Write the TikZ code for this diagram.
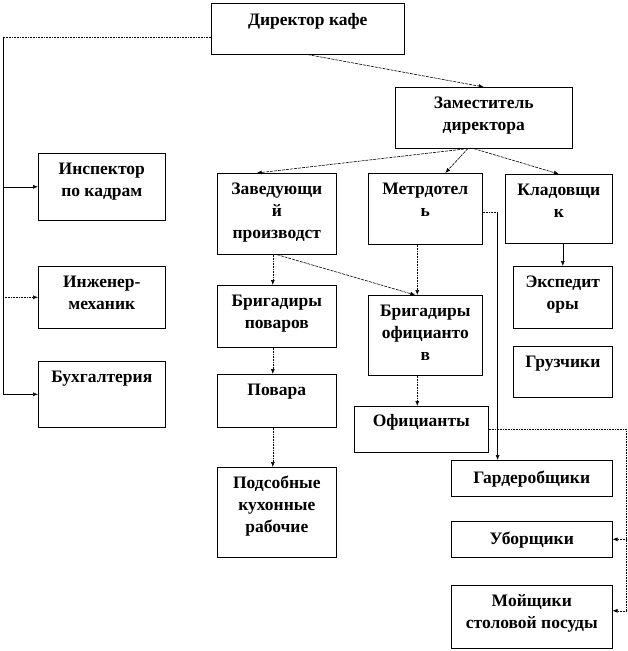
\documentclass[tikz,border=0pt]{standalone}
\usepackage{fontspec}
\setmainfont{Liberation Serif}
\usetikzlibrary{arrows.meta,positioning,calc}
% box text: width, height, text (optional: first baseline)
\newcommand{\bt}[4][21pt]{\parbox[t][#3][t]{#2}{\centering\rule{0pt}{#1}#4}}

\begin{document}
\begin{tikzpicture}[
        x=1pt, y=-1pt,
        font=\fontsize{17.5}{22}\selectfont\bfseries,
        >={Latex[length=5pt,width=4pt]},
        box/.style={draw, line width=0.6pt, inner sep=0pt, anchor=north west},
        sol/.style={->, line width=0.6pt},
        dot/.style={->, line width=0.6pt, densely dotted},
        dsh/.style={->, line width=0.6pt, dash pattern=on 3pt off 1pt},
    ]
        \useasboundingbox (0,0) rectangle (628,651);

        % --- top ---
        \node[box] (dir) at (211,3) {\bt[22pt]{193pt}{51pt}{Директор кафе}};
        \node[box] (zam) at (395,87) {\bt{177pt}{61pt}{Заместитель\\директора}};

        % --- left column ---
        \node[box] (insp) at (38,153) {\bt{127pt}{67pt}{Инспектор\\по кадрам}};
        \node[box] (inzh) at (38,266) {\bt{127pt}{62pt}{Инженер-\\механик}};
        \node[box] (buh)  at (38,361) {\bt{127pt}{66pt}{Бухгалтерия}};

        % --- production ---
        \node[box] (zav)  at (217,173) {\bt{119pt}{81pt}{Заведующи\\й\\производст}};
        \node[box] (bpov) at (217,285) {\bt{119pt}{62pt}{Бригадиры\\поваров}};
        \node[box] (pov)  at (217,374) {\bt{119pt}{53pt}{Повара}};
        \node[box] (pods) at (217,467) {\bt{119pt}{90pt}{Подсобные\\кухонные\\рабочие}};

        % --- hall ---
        \node[box] (met)  at (368,173) {\bt{114pt}{71pt}{Метрдотел\\ь}};
        \node[box] (bofi) at (368,295) {\bt{114pt}{80pt}{Бригадиры\\официанто\\в}};
        \node[box] (ofi)  at (354,406) {\bt[20pt]{134pt}{46pt}{Официанты}};

        % --- store ---
        \node[box] (klad) at (505,174) {\bt{107pt}{69pt}{Кладовщи\\к}};
        \node[box] (eksp) at (513,266) {\bt{99pt}{62pt}{Экспедит\\оры}};
        \node[box] (gruz) at (513,346) {\bt{99pt}{51pt}{Грузчики}};

        % --- service staff ---
        \node[box] (gard) at (451,460) {\bt[23pt]{161pt}{36pt}{Гардеробщики}};
        \node[box] (ubor) at (451,521) {\bt[23pt]{161pt}{36pt}{Уборщики}};
        \node[box] (moy)  at (451,585) {\bt{161pt}{63pt}{Мойщики\\столовой посуды}};

        % director -> left column
        \draw[line width=0.6pt, densely dotted] ([yshift=-8pt]dir.west) -- ++(-208,0) coordinate (lft);
        \draw[line width=0.6pt] (lft) -- (lft |- buh.west);
        \draw[sol] (lft |- insp.west) -- (insp.west);
        \draw[dot] (lft |- inzh.west) -- (inzh.west);
        \draw[sol] (lft |- buh.west) -- (buh.west);

        % director -> deputy -> heads
        \draw[dsh] (dir.south) -- (zam.north);
        \draw[dsh] ([xshift=-16pt]zam.south) -- ([xshift=-20pt]zav.north);
        \draw[dsh] ([xshift=-16pt]zam.south) -- ([xshift=20pt]met.north);
        \draw[dsh] ([xshift=-10pt]zam.south) -- (klad.north);
        \draw[sol] (eksp.north |- klad.south) -- (eksp.north);

        % production chain
        \draw[dot] ([xshift=-4pt]zav.south) -- ([xshift=-4pt]bpov.north);
        \draw[dsh] (zav.south) -- ([xshift=-10pt]bofi.north);
        \draw[dot] ([xshift=-4pt]bpov.south) -- ([xshift=-4pt]pov.north);
        \draw[dot] ([xshift=-4pt]pov.south) -- ([xshift=-4pt]pods.north);

        % hall chain
        \draw[dot] ([xshift=-8pt]met.south) -- ([xshift=-8pt]bofi.north);
        \draw[dot] ([xshift=-8pt]bofi.south) -- ([xshift=-8pt]bofi.south |- ofi.north);
        \draw[line width=0.6pt, densely dotted] ([yshift=-3pt]met.east) -- ++(15,0) coordinate (mg);
        \draw[sol] (mg) -- (mg |- gard.north);

        % waiters -> cleaning staff
        \coordinate (moyin) at ([yshift=6pt]moy.east);
        \draw[line width=0.6pt, densely dotted] (ofi.east) -- ++(138,0) coordinate (oc);
        \draw[line width=0.6pt, densely dotted] (oc) -- (oc |- moyin);
        \draw[dot] (oc |- ubor.east) -- (ubor.east);
        \draw[dot] (oc |- moyin) -- (moyin);

\end{tikzpicture}
\end{document}
